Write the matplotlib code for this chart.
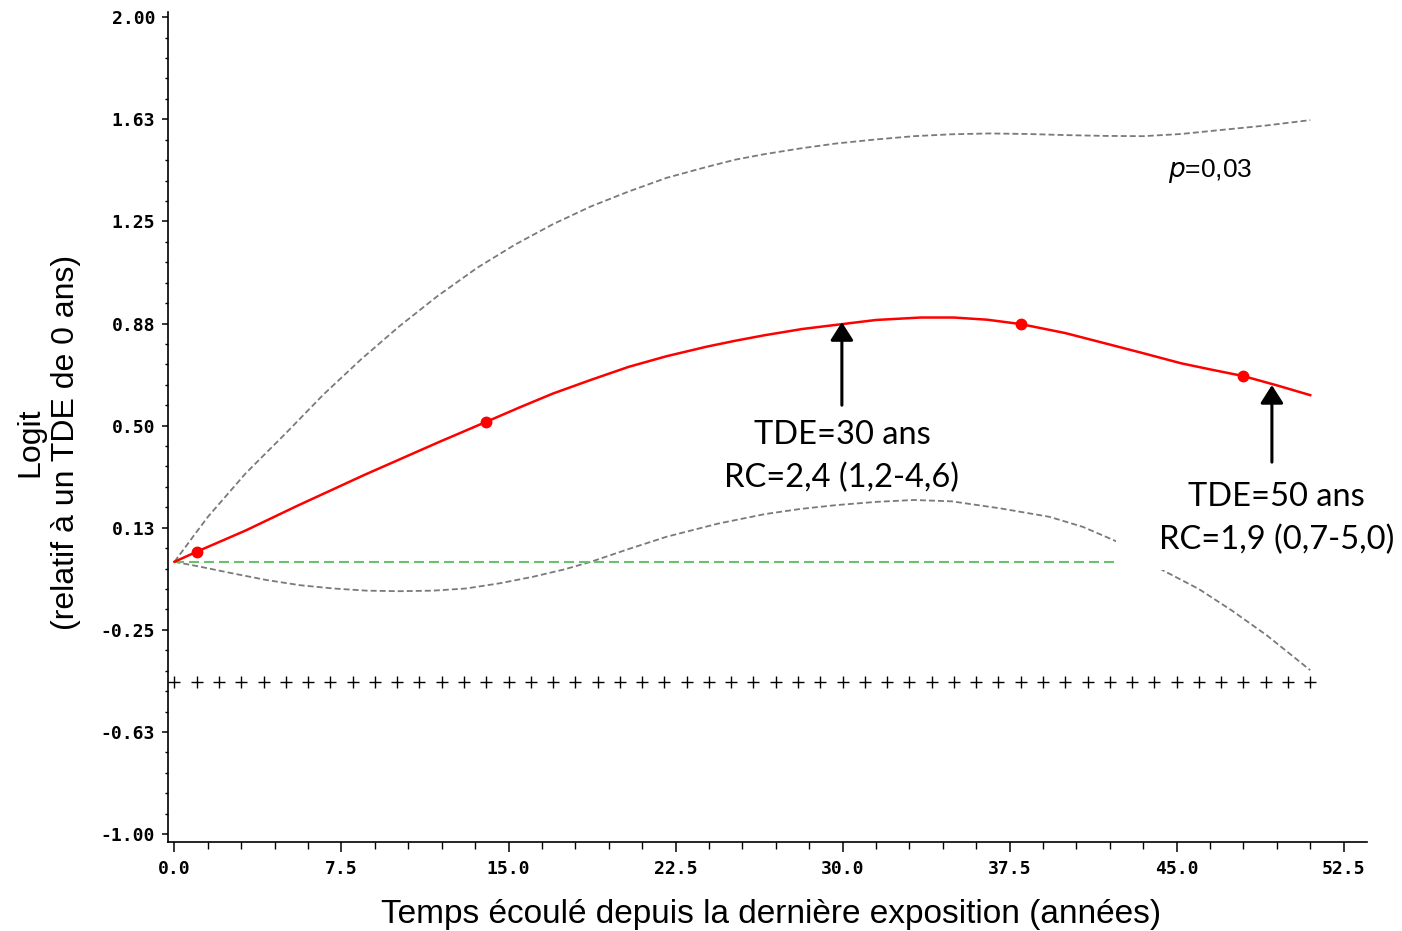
import numpy as np
import matplotlib
matplotlib.use("Agg")
import matplotlib.pyplot as plt
from matplotlib.patches import Rectangle
from matplotlib.ticker import FixedLocator

################################################################################
# Values

# fitted logit (red solid line)
fit_x = [0, 1, 3.2, 5.5, 8.5, 11.8, 14, 15.5, 17, 18.7, 20.4, 22.1, 23.9, 25.2,
         26.5, 28.2, 30, 31.5, 33.5, 35, 36.5, 38, 40, 41.8, 43.5, 45.2, 46.6,
         48, 49.5, 51]
fit_y = [0, 0.037, 0.115, 0.205, 0.318, 0.437, 0.514, 0.567, 0.618, 0.668,
         0.716, 0.755, 0.79, 0.812, 0.832, 0.855, 0.873, 0.888, 0.897, 0.897,
         0.889, 0.873, 0.84, 0.802, 0.766, 0.729, 0.705, 0.682, 0.648, 0.612]

# highlighted points on the fit
pts_x = [1, 14, 38, 48]
pts_y = [0.037, 0.514, 0.873, 0.682]

# upper confidence limit (grey dashed)
up_x = [0, 0.75, 1.5, 3.2, 5.0, 6.7, 8.4, 10.1, 11.8, 13.6, 15.3, 17.0, 18.7,
        20.4, 22.1, 23.9, 25.2, 26.5, 28.1, 29.7, 31.5, 33.2, 34.9, 36.6, 38.3,
        40.0, 41.8, 43.5, 45.2, 46.9, 49.0, 51]
up_y = [0, 0.083, 0.165, 0.325, 0.472, 0.615, 0.745, 0.865, 0.975, 1.08,
        1.165, 1.24, 1.305, 1.36, 1.41, 1.45, 1.477, 1.497, 1.518, 1.536,
        1.551, 1.563, 1.57, 1.573, 1.571, 1.567, 1.564, 1.563, 1.571, 1.585,
        1.602, 1.622]

# lower confidence limit (grey dashed)
lo_x = [0, 1.15, 2.64, 4.14, 5.64, 7.13, 8.63, 10.1, 11.6, 13.1, 14.6, 16.1,
        17.5, 18.7, 20.4, 22.1, 24.4, 26.5, 28.1, 29.7, 31.5, 33.2, 34.9, 37.1,
        39.3, 40.8, 42.3, 44.4, 46.0, 47.5, 49.05, 51]
lo_y = [0, -0.018, -0.043, -0.067, -0.086, -0.098, -0.106, -0.108, -0.106,
        -0.098, -0.079, -0.055, -0.028, 0.0, 0.047, 0.092, 0.14, 0.175, 0.194,
        0.208, 0.220, 0.227, 0.222, 0.196, 0.165, 0.128, 0.075, -0.032, -0.100,
        -0.180, -0.270, -0.398]

# reference line (green dashed)
ref_x = [0, 51]
ref_y = [0, 0]

# rug of observed times (+ markers)
rug_x = list(range(52))
rug_level = -0.442

xticks = [0, 7.5, 15, 22.5, 30, 37.5, 45, 52.5]
xticklabels = ['0.0', '7.5', '15.0', '22.5', '30.0', '37.5', '45.0', '52.5']
yticks = [-1.0, -0.625, -0.25, 0.125, 0.5, 0.875, 1.25, 1.625, 2.0]
yticklabels = ['-1.00', '-0.63', '-0.25', '0.13', '0.50', '0.88', '1.25',
               '1.63', '2.00']

################################################################################
W, H = 1402, 931
fig = plt.figure(figsize=(W/100, H/100), dpi=100)
ax = fig.add_axes([168/W, (H-842)/H, (1367-168)/W, (842-12)/H])

ax.plot(up_x, up_y, color='#7a7a7a', lw=1.3, dashes=(3.3, 1.7), zorder=2)
ax.plot(lo_x, lo_y, color='#7a7a7a', lw=1.3, dashes=(3.3, 1.7), zorder=2)
ax.plot(ref_x, ref_y, color='#6cbf6c', lw=1.5, dashes=(4.8, 2.4), zorder=2)
ax.plot(fit_x, fit_y, color='red', lw=1.8, zorder=4)
ax.plot(pts_x, pts_y, 'o', color='red', ms=7.5, zorder=5)
ax.plot(rug_x, [rug_level]*len(rug_x), '+', color='black', ms=8, mew=1.0,
        zorder=3)

# white background of the second annotation box
ax.add_patch(Rectangle((42.3, -0.03), 20, 0.39, facecolor='white',
                       edgecolor='none', zorder=6))

ax.set_xlim(-0.29, 53.55)
ax.set_ylim(-1.029, 2.019)

for s in ['top', 'right']:
    ax.spines[s].set_visible(False)
for s in ['left', 'bottom']:
    ax.spines[s].set_linewidth(1.2)

ax.xaxis.set_major_locator(FixedLocator(xticks))
ax.set_xticklabels(xticklabels)
ax.xaxis.set_minor_locator(FixedLocator(np.arange(0, 53.6, 1.5)))
ax.yaxis.set_major_locator(FixedLocator(yticks))
ax.set_yticklabels(yticklabels)
ax.yaxis.set_minor_locator(FixedLocator(np.arange(-1.0, 2.001, 0.075)))

for lab in ax.get_xticklabels() + ax.get_yticklabels():
    lab.set_fontfamily('DejaVu Sans Mono')
    lab.set_fontweight('bold')
    lab.set_fontsize(13)

ax.tick_params(axis='x', which='major', length=7.2, width=1.1, pad=6)
ax.tick_params(axis='x', which='minor', length=4.8, width=1.0)
ax.tick_params(axis='y', which='major', length=4.3, width=1.1, pad=5)
ax.tick_params(axis='y', which='minor', length=2.3, width=1.0)

# axis titles
fig.text(771/W, 1-914/H, 'Temps écoulé depuis la dernière exposition (années)',
         ha='center', va='center', fontsize=24, family='Liberation Sans')
fig.text(48/W, 1-442/H, 'Logit\n(relatif à un TDE de 0 ans)', rotation=90,
         ha='center', va='center', multialignment='center', fontsize=23,
         family='Liberation Sans', linespacing=1.25)

# annotations
ann = dict(ha='center', va='center', fontsize=23.5, family='Lato', zorder=8)
ax.text(29.97, 0.465, 'TDE=30 ans', **ann)
ax.text(29.97, 0.307, 'RC=2,4 (1,2-4,6)', **ann)
ax.text(49.5, 0.238, 'TDE=50 ans', clip_on=False, **ann)
ax.text(49.5, 0.080, 'RC=1,9 (0,7-5,0)', clip_on=False, **ann)

arrow = dict(arrowstyle='-|>,head_length=1.1,head_width=0.7', color='black',
             lw=2.2, shrinkA=0, shrinkB=0)
ax.annotate('', xy=(29.97, 0.880), xytext=(29.97, 0.575), arrowprops=arrow,
            zorder=8)
ax.annotate('', xy=(49.28, 0.649), xytext=(49.28, 0.366), arrowprops=arrow,
            zorder=8)

ax.text(44.6, 1.435, r'$\mathit{p}$=0,03', ha='left', va='center',
        fontsize=19, family='Liberation Sans')

fig.savefig('out.png', dpi=100)
